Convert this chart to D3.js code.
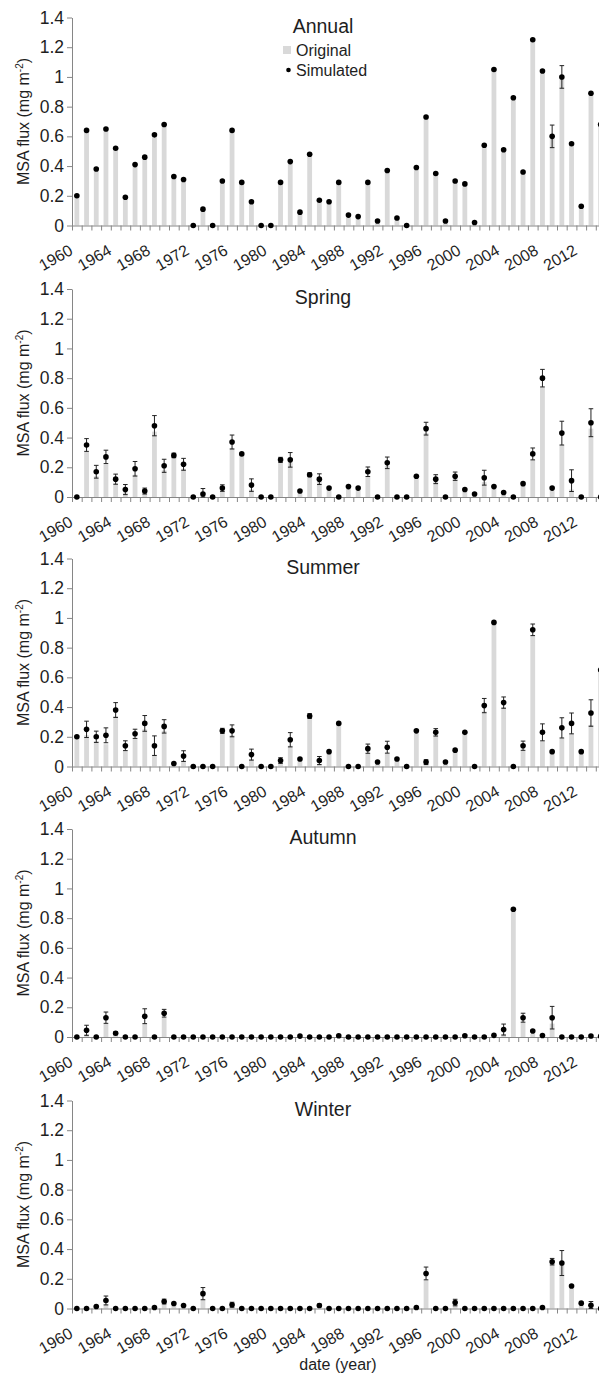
<!DOCTYPE html>
<html>
<head>
<meta charset="utf-8">
<title>MSA flux</title>
<script src="https://cdn.jsdelivr.net/npm/d3@7"></script>
<style>
    body { margin: 0; background: #fff; }
    svg { display: block; font-family: "Liberation Sans", Arial, sans-serif; }
</style>
</head>
<body>
<div id="chart"></div>
<script>
    // years on the x axis (one bar per year)
    var years = [1960, 1961, 1962, 1963, 1964, 1965, 1966, 1967, 1968, 1969,
        1970, 1971, 1972, 1973, 1974, 1975, 1976, 1977, 1978, 1979,
        1980, 1981, 1982, 1983, 1984, 1985, 1986, 1987, 1988, 1989,
        1990, 1991, 1992, 1993, 1994, 1995, 1996, 1997, 1998, 1999,
        2000, 2001, 2002, 2003, 2004, 2005, 2006, 2007, 2008, 2009,
        2010, 2011, 2012, 2013, 2014];
    var yearLabels = [1960, 1964, 1968, 1972, 1976, 1980, 1984, 1988, 1992, 1996, 2000, 2004, 2008, 2012];
    var fluxTicks = [0, 0.2, 0.4, 0.6, 0.8, 1, 1.2, 1.4];

    // annual
    var annualOrig = [0.20, 0.64, 0.38, 0.65, 0.52, 0.19, 0.41, 0.46, 0.61, 0.68,
        0.33, 0.31, 0.00, 0.11, 0.00, 0.30, 0.64, 0.29, 0.16, 0.00,
        0.00, 0.29, 0.43, 0.09, 0.48, 0.17, 0.16, 0.29, 0.07, 0.06,
        0.29, 0.03, 0.37, 0.05, 0.00, 0.39, 0.73, 0.35, 0.03, 0.30,
        0.28, 0.02, 0.54, 1.05, 0.51, 0.86, 0.36, 1.25, 1.04, 0.60,
        1.00, 0.55, 0.13, 0.89, 0.68];
    var annualSim = [0.20, 0.64, 0.38, 0.65, 0.52, 0.19, 0.41, 0.46, 0.61, 0.68,
        0.33, 0.31, 0.00, 0.11, 0.00, 0.30, 0.64, 0.29, 0.16, 0.00,
        0.00, 0.29, 0.43, 0.09, 0.48, 0.17, 0.16, 0.29, 0.07, 0.06,
        0.29, 0.03, 0.37, 0.05, 0.00, 0.39, 0.73, 0.35, 0.03, 0.30,
        0.28, 0.02, 0.54, 1.05, 0.51, 0.86, 0.36, 1.25, 1.04, 0.60,
        1.00, 0.55, 0.13, 0.89, 0.68];
    var annualErr = [0, 0, 0, 0, 0, 0, 0, 0, 0, 0,
        0, 0, 0, 0, 0, 0, 0, 0, 0, 0,
        0, 0, 0, 0, 0, 0, 0, 0, 0, 0,
        0, 0, 0, 0, 0, 0, 0, 0, 0, 0,
        0, 0, 0, 0, 0, 0, 0, 0, 0, 0.076,
        0.076, 0, 0, 0, 0];

    // spring
    var springOrig = [0.00, 0.31, 0.14, 0.22, 0.09, 0.03, 0.15, 0.03, 0.44, 0.18,
        0.27, 0.19, 0.00, 0.00, 0.00, 0.05, 0.33, 0.29, 0.05, 0.00,
        0.00, 0.26, 0.26, 0.03, 0.14, 0.11, 0.05, 0.00, 0.06, 0.05,
        0.14, 0.00, 0.21, 0.00, 0.00, 0.14, 0.43, 0.10, 0.00, 0.13,
        0.04, 0.01, 0.10, 0.07, 0.02, 0.00, 0.08, 0.25, 0.74, 0.06,
        0.35, 0.05, 0.00, 0.46, 0.00];
    var springSim = [0.00, 0.35, 0.17, 0.27, 0.12, 0.05, 0.19, 0.04, 0.48, 0.21,
        0.28, 0.22, 0.00, 0.02, 0.00, 0.06, 0.37, 0.29, 0.08, 0.00,
        0.00, 0.25, 0.25, 0.04, 0.15, 0.12, 0.06, 0.00, 0.07, 0.06,
        0.17, 0.00, 0.23, 0.00, 0.00, 0.14, 0.46, 0.12, 0.00, 0.14,
        0.05, 0.02, 0.13, 0.07, 0.03, 0.00, 0.09, 0.29, 0.80, 0.06,
        0.43, 0.11, 0.00, 0.50, 0.00];
    var springErr = [0, 0.043, 0.043, 0.045, 0.034, 0.034, 0.049, 0.02, 0.068, 0.044,
        0.015, 0.04, 0, 0.037, 0, 0.022, 0.047, 0, 0.042, 0,
        0, 0.017, 0.049, 0, 0.013, 0.036, 0, 0, 0, 0,
        0.032, 0, 0.039, 0, 0, 0, 0.043, 0.03, 0, 0.028,
        0, 0, 0.05, 0, 0, 0, 0, 0.04, 0.059, 0,
        0.08, 0.073, 0, 0.094, 0];

    // summer
    var summerOrig = [0.20, 0.21, 0.17, 0.15, 0.34, 0.11, 0.19, 0.25, 0.08, 0.24,
        0.01, 0.04, 0.00, 0.00, 0.00, 0.24, 0.21, 0.00, 0.05, 0.00,
        0.00, 0.03, 0.14, 0.05, 0.34, 0.01, 0.09, 0.29, 0.00, 0.00,
        0.09, 0.02, 0.09, 0.04, 0.00, 0.24, 0.02, 0.21, 0.02, 0.11,
        0.23, 0.00, 0.37, 0.97, 0.40, 0.00, 0.11, 0.88, 0.17, 0.10,
        0.19, 0.22, 0.10, 0.28, 0.65];
    var summerSim = [0.20, 0.25, 0.20, 0.21, 0.38, 0.14, 0.22, 0.29, 0.14, 0.27,
        0.02, 0.07, 0.00, 0.00, 0.00, 0.24, 0.24, 0.00, 0.08, 0.00,
        0.00, 0.04, 0.18, 0.05, 0.34, 0.04, 0.10, 0.29, 0.00, 0.00,
        0.12, 0.03, 0.13, 0.05, 0.00, 0.24, 0.03, 0.23, 0.03, 0.11,
        0.23, 0.00, 0.41, 0.97, 0.43, 0.00, 0.14, 0.92, 0.23, 0.10,
        0.26, 0.29, 0.10, 0.36, 0.65];
    var summerErr = [0, 0.055, 0.038, 0.05, 0.05, 0.033, 0.031, 0.053, 0.066, 0.045,
        0, 0.036, 0, 0, 0, 0.017, 0.04, 0, 0.037, 0,
        0, 0.019, 0.048, 0, 0.016, 0.027, 0, 0, 0, 0,
        0.031, 0, 0.04, 0, 0, 0, 0.016, 0.025, 0, 0,
        0, 0, 0.048, 0, 0.038, 0, 0.031, 0.039, 0.057, 0,
        0.068, 0.07, 0, 0.089, 0];

    // autumn
    var autumnOrig = [0.00, 0.02, 0.00, 0.09, 0.04, 0.00, 0.00, 0.09, 0.00, 0.13,
        0, 0, 0, 0, 0, 0, 0, 0, 0, 0,
        0, 0, 0, 0, 0, 0, 0, 0, 0, 0,
        0, 0, 0, 0, 0, 0, 0, 0, 0, 0,
        0, 0, 0, 0, 0.02, 0.86, 0.10, 0.02, 0.00, 0.09,
        0, 0, 0, 0, 0];
    var autumnSim = [0.00, 0.045, 0.00, 0.13, 0.025, 0.00, 0.00, 0.14, 0.00, 0.16,
        0, 0, 0, 0, 0, 0, 0, 0, 0, 0,
        0, 0, 0, 0.006, 0, 0, 0, 0.008, 0, 0,
        0, 0, 0, 0, 0, 0, 0, 0, 0, 0,
        0.008, 0, 0, 0.011, 0.05, 0.86, 0.13, 0.04, 0.01, 0.13,
        0, 0, 0, 0.007, 0.005];
    var autumnErr = [0, 0.034, 0, 0.038, 0.01, 0, 0, 0.05, 0, 0.026,
        0, 0, 0, 0, 0, 0, 0, 0, 0, 0,
        0, 0, 0, 0, 0, 0, 0, 0, 0, 0,
        0, 0, 0, 0, 0, 0, 0, 0, 0, 0,
        0, 0, 0, 0, 0.037, 0, 0.03, 0, 0, 0.076,
        0, 0, 0, 0, 0];

    // winter
    var winterOrig = [0, 0, 0, 0.03, 0, 0, 0, 0, 0, 0.04,
        0.03, 0.02, 0, 0.06, 0, 0, 0.02, 0, 0, 0,
        0, 0, 0, 0, 0, 0, 0, 0, 0, 0,
        0, 0, 0, 0, 0, 0, 0.19, 0, 0, 0.03,
        0, 0, 0, 0, 0, 0, 0, 0, 0, 0.30,
        0.30, 0.15, 0.03, 0.01, 0];
    var winterSim = [0, 0, 0.013, 0.054, 0, 0, 0, 0, 0.007, 0.047,
        0.034, 0.02, 0, 0.10, 0, 0, 0.025, 0, 0, 0,
        0, 0, 0, 0, 0, 0.02, 0, 0, 0, 0,
        0, 0, 0, 0, 0, 0.007, 0.236, 0, 0, 0.04,
        0, 0, 0, 0, 0, 0, 0, 0, 0.007, 0.315,
        0.306, 0.151, 0.036, 0.022, 0];
    var winterErr = [0, 0, 0, 0.03, 0, 0, 0, 0, 0, 0.016,
        0, 0, 0, 0.041, 0, 0, 0.017, 0, 0, 0,
        0, 0, 0, 0, 0, 0.01, 0, 0, 0, 0,
        0, 0, 0, 0, 0, 0, 0.043, 0, 0, 0.022,
        0, 0, 0, 0, 0, 0, 0, 0, 0, 0.022,
        0.084, 0, 0, 0.025, 0];

    var panels = [
        { title: "Annual", orig: annualOrig, sim: annualSim, err: annualErr },
        { title: "Spring", orig: springOrig, sim: springSim, err: springErr },
        { title: "Summer", orig: summerOrig, sim: summerSim, err: summerErr },
        { title: "Autumn", orig: autumnOrig, sim: autumnSim, err: autumnErr },
        { title: "Winter", orig: winterOrig, sim: winterSim, err: winterErr }
    ];

    var width = 599, height = 1379;
    var left = 72;
    var step = 9.70;           // width of one year
    var plotH = 208;
    var panelTop = [17.5, 289, 558.5, 829, 1100.5];
    var axisColor = "#868686";
    var textColor = "#1e1e1e";

    var svg = d3.select("#chart").append("svg")
        .attr("width", width)
        .attr("height", height);

    svg.append("rect").attr("width", width).attr("height", height).attr("fill", "#fff");

    // one more slot after the last year so the axis runs off the right edge
    var x = d3.scaleBand()
        .domain(years.concat([2015]))
        .range([left, left + step * (years.length + 1)])
        .padding(0);
    // year boundaries, used for the small tick marks between bars
    var xEdge = d3.scaleLinear()
        .domain([1960, 2016])
        .range(x.range());
    var y = d3.scaleLinear().domain([0, 1.4]).range([plotH, 0]);

    var barW = 4.8;

    panels.forEach(function (p, k) {
        var g = svg.append("g").attr("transform", "translate(0," + panelTop[k] + ")");

        var rows = years.map(function (yr, i) {
            return { year: yr, orig: p.orig[i], sim: p.sim[i], err: p.err[i] };
        });

        // original bars
        g.selectAll("rect.bar").data(rows).enter().append("rect")
            .attr("class", "bar")
            .attr("x", function (d) { return x(d.year) + x.bandwidth() / 2 - barW / 2; })
            .attr("y", function (d) { return y(d.orig); })
            .attr("width", barW)
            .attr("height", function (d) { return plotH - y(d.orig); })
            .attr("fill", "#d9d9d9");

        // y axis
        var yAxis = g.append("g")
            .attr("transform", "translate(" + left + ",0)")
            .call(d3.axisLeft(y).tickValues(fluxTicks)
                .tickFormat(function (d) { return String(+d.toFixed(1)); })
                .tickSize(5).tickSizeOuter(0).tickPadding(3));
        yAxis.select(".domain").attr("stroke", axisColor);
        yAxis.selectAll(".tick line").attr("stroke", axisColor);
        yAxis.selectAll(".tick text")
            .attr("fill", textColor)
            .attr("font-size", "17.5px")
            .attr("font-family", "Liberation Sans, Arial, sans-serif");

        // x axis: ticks between years
        var xAxis = g.append("g")
            .attr("transform", "translate(0," + plotH + ")")
            .call(d3.axisBottom(xEdge).tickValues(d3.range(1960, 2017))
                .tickFormat("").tickSize(5).tickSizeOuter(0));
        xAxis.select(".domain").attr("stroke", axisColor);
        xAxis.selectAll(".tick line").attr("stroke", axisColor);

        g.selectAll("text.year").data(yearLabels).enter().append("text")
            .attr("class", "year")
            .attr("transform", function (d) {
                return "translate(" + (x(d) + x.bandwidth() / 2 - 3) + "," + (plotH + 28) + ") rotate(-30)";
            })
            .attr("text-anchor", "end")
            .attr("font-size", "16px")
            .attr("fill", textColor)
            .text(function (d) { return d; });

        // error bars for the simulated values
        var eb = g.selectAll("g.err").data(rows.filter(function (d) { return d.err > 0; }))
            .enter().append("g").attr("class", "err")
            .attr("stroke", "#222").attr("stroke-width", 1);
        eb.append("line")
            .attr("x1", function (d) { return x(d.year) + x.bandwidth() / 2; })
            .attr("x2", function (d) { return x(d.year) + x.bandwidth() / 2; })
            .attr("y1", function (d) { return y(d.sim + d.err); })
            .attr("y2", function (d) { return y(Math.max(0, d.sim - d.err)); });
        [1, -1].forEach(function (s) {
            eb.append("line")
                .attr("x1", function (d) { return x(d.year) + x.bandwidth() / 2 - 2.3; })
                .attr("x2", function (d) { return x(d.year) + x.bandwidth() / 2 + 2.3; })
                .attr("y1", function (d) { return y(Math.max(0, d.sim + s * d.err)); })
                .attr("y2", function (d) { return y(Math.max(0, d.sim + s * d.err)); });
        });

        // simulated points
        g.selectAll("circle.sim").data(rows).enter().append("circle")
            .attr("class", "sim")
            .attr("cx", function (d) { return x(d.year) + x.bandwidth() / 2; })
            .attr("cy", function (d) { return y(d.sim); })
            .attr("r", 2.8)
            .attr("fill", "#000");

        g.append("text")
            .attr("x", 323)
            .attr("y", 15)
            .attr("text-anchor", "middle")
            .attr("font-size", "19.5px")
            .attr("fill", textColor)
            .text(p.title);

        // y axis title with superscript
        var yt = g.append("text")
            .attr("transform", "translate(29," + (plotH / 2) + ") rotate(-90)")
            .attr("text-anchor", "middle")
            .attr("font-size", "16px")
            .attr("fill", textColor);
        yt.append("tspan").text("MSA flux (mg m");
        yt.append("tspan").attr("font-size", "10px").attr("dy", -6).text("-2");
        yt.append("tspan").attr("dy", 6).text(")");

        if (k === 0) {
            var lg = g.append("g").attr("transform", "translate(283,0)");
            lg.append("rect").attr("x", 0).attr("y", 28.5).attr("width", 8).attr("height", 8).attr("fill", "#d9d9d9");
            lg.append("text").attr("x", 13).attr("y", 38.5).attr("font-size", "16px").attr("fill", textColor).text("Original");
            lg.append("circle").attr("cx", 5.5).attr("cy", 52.5).attr("r", 2.3).attr("fill", "#000");
            lg.append("text").attr("x", 13).attr("y", 58.5).attr("font-size", "16px").attr("fill", textColor).text("Simulated");
        }
    });

    svg.append("text")
        .attr("x", 338)
        .attr("y", 1370)
        .attr("text-anchor", "middle")
        .attr("font-size", "16px")
        .attr("fill", textColor)
        .text("date (year)");
</script>
</body>
</html>
